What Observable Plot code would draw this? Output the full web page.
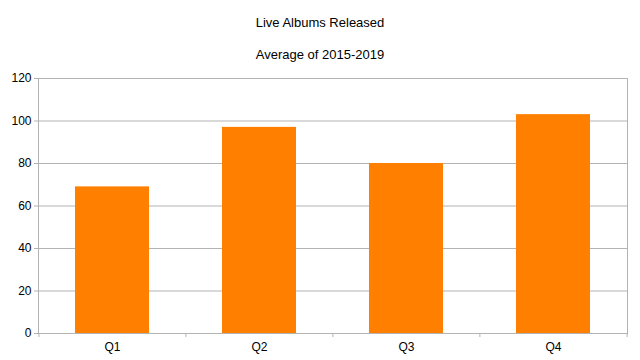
<!DOCTYPE html>
<html>
<head>
<meta charset="utf-8">
<script src="https://cdn.jsdelivr.net/npm/d3@7"></script>
<script src="https://cdn.jsdelivr.net/npm/@observablehq/plot@0.6"></script>
<style>
  body { margin: 0; background: #fff; font-family: "Liberation Sans", Arial, sans-serif; }
  #wrap { width: 640px; height: 360px; position: relative; }
  .title { position: absolute; left: 0; width: 640px; text-align: center; color: #000; font-size: 13px; }
  #chart { position: absolute; left: 0; top: 68px; }
</style>
</head>
<body>
<div id="wrap">
  <div class="title" style="top:15px">Live Albums Released</div>
  <div class="title" style="top:47px">Average of 2015-2019</div>
  <div id="chart"></div>
</div>
<script>
const quarters = ["Q1", "Q2", "Q3", "Q4"];
const values = [69, 97, 80, 103];
const yTicks = [0, 20, 40, 60, 80, 100, 120];

const data = quarters.map((q, i) => ({ q, v: values[i] }));
const width = 640, height = 292;
const mL = 38, mR = 13;
const step = (width - mL - mR) / quarters.length;

const chart = Plot.plot({
  width, height,
  marginTop: 10, marginBottom: 27, marginLeft: mL, marginRight: mR,
  style: { fontFamily: "Liberation Sans, Arial, sans-serif", fontSize: "12px", color: "#000", background: "#fff" },
  x: { domain: quarters, paddingInner: 0.5, paddingOuter: 0.25, label: null },
  y: { domain: [0, 120], ticks: yTicks, label: null },
  marks: [
    Plot.gridY(yTicks, { stroke: "#b3b3b3", strokeOpacity: 1 }),
    Plot.barY(data, { x: "q", y: "v", fill: "#ff8000" }),
    Plot.frame({ stroke: "#b3b3b3" }),
    Plot.axisY({ ticks: yTicks, tickSize: 4, tickPadding: 3, stroke: "#b3b3b3", fill: "#000" }),
    Plot.axisX({ tickSize: 0, tickPadding: 9, fill: "#000" }),
    Plot.ruleX(quarters, { x: d => d, y1: 0, y2: 0, insetBottom: -4, dx: -step / 2, stroke: "#b3b3b3" }),
    Plot.ruleX([quarters[quarters.length - 1]], { x: d => d, y1: 0, y2: 0, insetBottom: -4, dx: step / 2, stroke: "#b3b3b3" })
  ]
});
document.getElementById("chart").appendChild(chart);
</script>
</body>
</html>
